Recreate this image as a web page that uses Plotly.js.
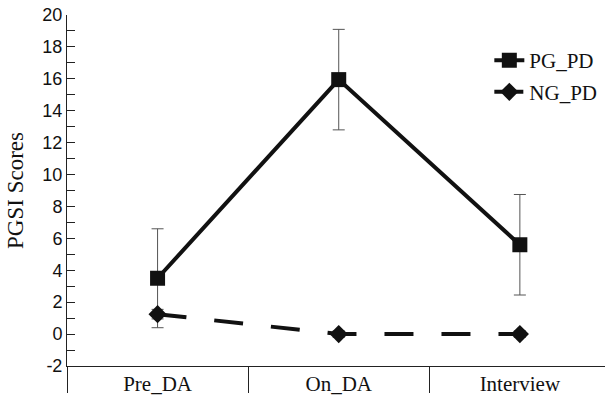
<!DOCTYPE html>
<html>
<head>
<meta charset="utf-8">
<script src="https://cdn.plot.ly/plotly-3.0.1.min.js"></script>
<style>html,body{margin:0;padding:0;background:#fff;}#chart{width:605px;height:397px;}</style>
</head>
<body>
<div id="chart"></div>
<script>
const categories = ["Pre_DA", "On_DA", "Interview"];
const pgValues = [3.5, 15.95, 5.6];
const pgErrors = [3.1, 3.15, 3.15];
const ngValues = [1.25, 0, 0];
const ngErrors = [0.3, 0.2, 0.2];
const yTickVals = [-2, 0, 2, 4, 6, 8, 10, 12, 14, 16, 18, 20];
const yTickText = ["-2", "0", "2", "4", "6", "8", "10", "12", "14", "16", "18", "20"];

const serif = "Liberation Serif, Times New Roman, serif";
const sans = "Liberation Sans, Arial, sans-serif";

const traces = [
  {
    x: categories, y: pgValues, name: "PG_PD", type: "scatter", mode: "lines+markers",
    line: {color: "#111", width: 4},
    marker: {symbol: "square", size: 15, color: "#111"},
    error_y: {type: "data", array: pgErrors, visible: true, color: "#555", thickness: 1, width: 6},
    legend: "legend"
  },
  {
    x: categories, y: ngValues, name: "NG_PD", type: "scatter", mode: "lines+markers",
    line: {color: "#111", width: 4, dash: "29px,28px"},
    marker: {symbol: "diamond", size: 14, color: "#111"},
    error_y: {type: "data", array: ngErrors, visible: true, color: "#555", thickness: 1, width: 6},
    legend: "legend2"
  }
];

const layout = {
  width: 605, height: 397,
  margin: {l: 67, r: 0, t: 15, b: 31},
  paper_bgcolor: "#fff", plot_bgcolor: "#fff",
  showlegend: true,
  xaxis: {
    type: "category", range: [-0.5, 2.47],
    showline: true, linecolor: "#222", linewidth: 1,
    showgrid: false, zeroline: false,
    ticks: "outside", tickson: "boundaries", ticklen: 26, tickwidth: 1, tickcolor: "#222",
    ticklabelstandoff: -1,
    tickfont: {family: serif, size: 21, color: "#111"}
  },
  yaxis: {
    range: [-2, 20], showline: true, linecolor: "#222", linewidth: 1,
    showgrid: false, zeroline: false,
    tickvals: yTickVals, ticktext: yTickText,
    ticks: "inside", ticklen: 8, tickwidth: 1, tickcolor: "#222",
    minor: {dtick: 1, ticks: "inside", ticklen: 8, tickwidth: 1, tickcolor: "#222", showgrid: false},
    tickfont: {family: sans, size: 18, color: "#111"},
    title: {text: "PGSI Scores", font: {family: serif, size: 23, color: "#111"}, standoff: 12}
  },
  legend: {
    x: 0.785, y: 0.87, xanchor: "left", yanchor: "middle",
    bgcolor: "rgba(0,0,0,0)", font: {family: serif, size: 21, color: "#111"}
  },
  legend2: {
    x: 0.785, y: 0.78, xanchor: "left", yanchor: "middle",
    bgcolor: "rgba(0,0,0,0)", font: {family: serif, size: 21, color: "#111"}
  }
};

Plotly.newPlot("chart", traces, layout, {displayModeBar: false, staticPlot: true});
</script>
</body>
</html>
